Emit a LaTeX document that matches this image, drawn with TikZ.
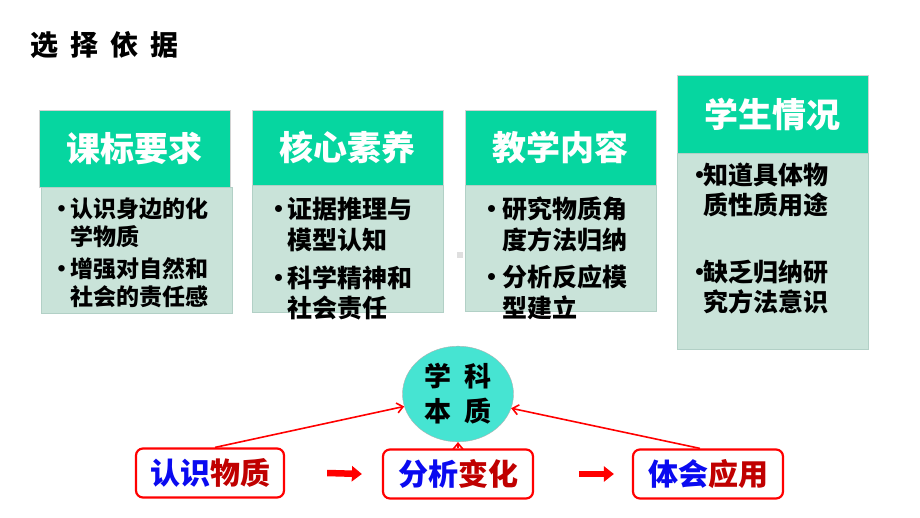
\documentclass[tikz,border=0pt]{standalone}
\usepackage{fontspec}
\newfontfamily\cjk{Noto Sans CJK SC}
\usetikzlibrary{shapes.geometric}
\usetikzlibrary{positioning}
\usetikzlibrary{arrows.meta}
\definecolor{headgreen}{RGB}{6,214,160}
\definecolor{bodygreen}{RGB}{201,227,217}
\definecolor{bodyline}{RGB}{178,208,198}
\definecolor{tealfill}{RGB}{70,228,210}
\definecolor{darkred}{RGB}{192,0,0}
\definecolor{pureblue}{RGB}{10,10,240}

\newcommand{\bitem}[3]{\begin{tabular}{@{}p{#1}@{}l@{}}\textbullet&#2\\&#3\end{tabular}}

\tikzset{
  headbox/.style={draw=gray!35, fill=headgreen, text=white, anchor=north west,
    minimum width=191pt, inner sep=0pt, font=\cjk\bfseries\fontsize{34}{38}\selectfont},
  bodybox/.style={draw=bodyline, fill=bodygreen, anchor=north west,
    minimum width=191pt, inner sep=0pt},
  itemtext/.style={anchor=west, inner sep=0pt, align=left},
  redbox/.style={draw=red, line width=2.2pt, fill=white, rounded corners=7pt,
    minimum width=150pt, minimum height=49pt, inner sep=0pt,
    font=\cjk\bfseries\fontsize{30}{34}\selectfont},
  blockarrow/.style={red, line width=6.5pt, -{Triangle[length=10pt,width=15pt]}},
  redline/.style={red, line width=1.6pt, -{Straight Barb[length=6pt,width=10pt]}}
}

\begin{document}
\begin{tikzpicture}[x=1pt, y=-1pt]
  \useasboundingbox (0,0) rectangle (920,518);

  % title
  \node[anchor=west, inner sep=0pt, font=\cjk\bfseries\fontsize{28}{30}\selectfont] (title) at (30,45)
    {选\hspace{12pt}择\hspace{12pt}依\hspace{12pt}据};

  % four columns
  \node[headbox, minimum height=77pt] (kbhead) at (39,110) {课标要求};
  \node[bodybox, minimum height=126pt] (kbbody) at (41,187) {};
  \node[headbox, minimum height=75pt] (hxhead) at (252,110) {核心素养};
  \node[bodybox, minimum height=127pt] (hxbody) at (252,185) {};
  \node[headbox, minimum height=75pt] (jxhead) at (465,110) {教学内容};
  \node[bodybox, minimum height=126pt] (jxbody) at (465,185) {};
  \node[headbox, minimum height=78pt] (xshead) at (677,75) {学生情况};
  \node[bodybox, minimum height=196pt] (xsbody) at (677,153) {};

  \begin{scope}[every node/.style={itemtext, font=\cjk\bfseries\fontsize{23}{27}\selectfont}]
    \node (kb1) at (50,226) {\bitem{20pt}{认识身边的化}{学物质}};
    \node (kb2) at (50,286) {\bitem{20pt}{增强对自然和}{社会的责任感}};
  \end{scope}
  \begin{scope}[every node/.style={itemtext, font=\cjk\bfseries\fontsize{25}{30}\selectfont}]
    \node (hx1) at (266,228) {\bitem{21pt}{证据推理与}{模型认知}};
    \node (hx2) at (266,296) {\bitem{21pt}{科学精神和}{社会责任}};
    \node (jx1) at (479,228) {\bitem{23pt}{研究物质角}{度方法归纳}};
    \node (jx2) at (479,296) {\bitem{23pt}{分析反应模}{型建立}};
  \end{scope}
  \begin{scope}[every node/.style={itemtext, font=\cjk\bfseries\fontsize{25}{27}\selectfont}]
    \node (xs1) at (687,193) {\bitem{16pt}{知道具体物}{质性质用途}};
    \node (xs2) at (687,290) {\bitem{16pt}{缺乏归纳研}{究方法意识}};
  \end{scope}
  \fill[gray!25] (457,252) rectangle (463,258);

  % subject essence
  \node[ellipse, draw=gray!60, fill=tealfill, minimum width=111pt, minimum height=86pt,
    align=center, font=\cjk\bfseries\fontsize{27}{35}\selectfont] (essence) at (458,394)
    {学\hspace{14pt}科\\本\hspace{14pt}质};

  % bottom row
  \node[redbox, minimum width=148pt] (rs) at (210,473)
    {\textcolor{pureblue}{认识}\textcolor{darkred}{物质}};
  \node[redbox] (fx) at (458,474)
    {\textcolor{pureblue}{分析}\textcolor{darkred}{变化}};
  \node[redbox] (th) at (708,474)
    {\textcolor{pureblue}{体会}\textcolor{darkred}{应用}};

  \draw[blockarrow] ([xshift=42pt]rs.east) -- ([xshift=-20pt]fx.west);
  \draw[blockarrow] ([xshift=45pt]fx.east) -- ([xshift=-18pt]th.west);

  \draw[redline] ([xshift=5pt]rs.north) -- (essence.193);
  \draw[redline] (fx.north) -- (essence.south);
  \draw[redline] ([xshift=-8pt]th.north) -- (essence.-15);
\end{tikzpicture}
\end{document}
